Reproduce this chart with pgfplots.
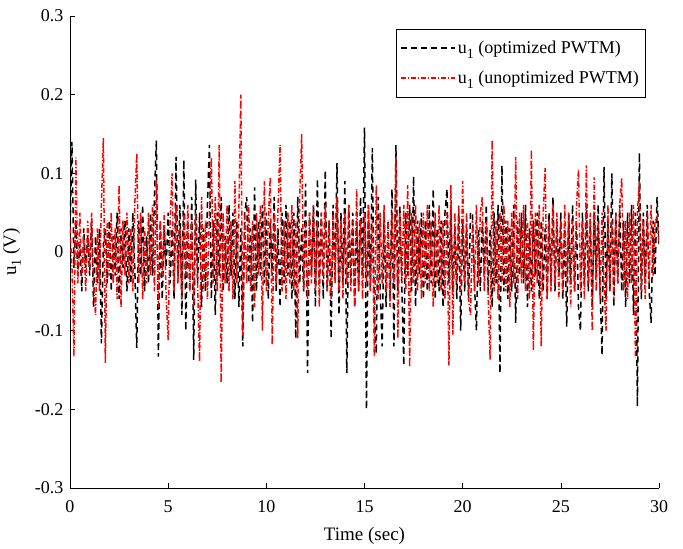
\documentclass[border=0pt]{standalone}
\usepackage{pgfplots}
\pgfplotsset{compat=1.18}
\usepackage{pgfplotstable}
\usepackage{fontspec}
\setmainfont{Liberation Serif}
\newcommand{\uone}{u\raisebox{-0.55ex}{\fontsize{14bp}{14bp}\selectfont 1}}
\pgfplotstableread{
t b r
0.0 0.02 0.03
0.1 0.14 -0.02
0.2 -0.02 -0.133
0.3 0.04 0.12
0.4 -0.03 -0.04
0.5 0.01 0.05
0.6 -0.05 -0.03
0.7 0.03 0.02
0.8 -0.02 -0.05
0.9 0.02 0.04
1.0 -0.03 -0.02
1.1 0.04 0.05
1.2 -0.07 -0.04
1.3 0.02 -0.08
1.4 -0.04 0.03
1.5 0.03 -0.05
1.6 -0.116 0.06
1.7 0.01 0.145
1.8 0.03 -0.141
1.9 -0.04 0.04
2.0 0.04 -0.03
2.1 -0.05 0.05
2.2 0.02 -0.04
2.3 -0.03 0.03
2.4 0.05 -0.06
2.5 -0.06 0.085
2.6 0.03 -0.07
2.7 -0.02 0.04
2.8 0.04 -0.03
2.9 -0.05 0.05
3.0 0.03 -0.04
3.1 -0.04 0.03
3.2 0.05 -0.05
3.3 -0.02 0.06
3.4 -0.122 0.125
3.5 0.04 -0.04
3.6 -0.03 0.05
3.7 0.06 -0.06
3.8 -0.05 0.03
3.9 0.02 -0.04
4.0 -0.04 0.05
4.1 0.05 -0.03
4.2 -0.03 0.06
4.3 0.07 -0.05
4.4 0.142 0.092
4.5 -0.133 -0.07
4.6 0.04 0.04
4.7 -0.06 -0.03
4.8 0.03 0.05
4.9 -0.02 -0.06
5.0 0.05 -0.112
5.1 -0.04 0.04
5.2 0.03 0.10
5.3 -0.06 -0.05
5.4 0.121 0.06
5.5 -0.03 -0.04
5.6 0.06 0.03
5.7 -0.08 -0.06
5.8 0.117 0.05
5.9 -0.10 -0.03
6.0 0.04 0.06
6.1 -0.05 -0.05
6.2 0.07 0.04
6.3 -0.137 -0.07
6.4 0.092 0.05
6.5 -0.04 -0.04
6.6 0.05 -0.139
6.7 -0.07 0.07
6.8 0.03 -0.05
6.9 -0.05 0.04
7.0 0.06 -0.06
7.1 0.136 0.05
7.2 -0.06 0.12
7.3 0.04 -0.04
7.4 -0.08 0.07
7.5 0.05 -0.05
7.6 -0.03 0.136
7.7 0.07 -0.166
7.8 -0.05 0.05
7.9 0.02 -0.04
8.0 -0.04 0.06
8.1 0.06 -0.05
8.2 -0.03 0.04
8.3 0.05 -0.06
8.4 -0.06 0.09
8.5 0.04 -0.04
8.6 -0.07 0.05
8.7 0.03 0.20
8.8 -0.12 -0.106
8.9 0.05 0.05
9.0 0.07 -0.04
9.1 -0.04 0.06
9.2 0.03 -0.05
9.3 -0.09 0.04
9.4 0.082 -0.07
9.5 -0.05 0.05
9.6 0.04 -0.03
9.7 -0.03 0.06
9.8 0.06 -0.10
9.9 -0.04 0.09
10.0 0.05 -0.05
10.1 -0.06 0.04
10.2 0.04 0.095
10.3 -0.03 -0.118
10.4 0.07 0.05
10.5 -0.05 -0.04
10.6 0.03 0.06
10.7 -0.07 0.136
10.8 0.05 -0.05
10.9 -0.04 0.04
11.0 0.06 -0.06
11.1 -0.03 0.05
11.2 0.04 -0.04
11.3 -0.06 0.06
11.4 0.05 -0.05
11.5 -0.11 0.04
11.6 0.07 -0.11
11.7 -0.04 0.07
11.8 0.03 0.15
11.9 -0.05 -0.05
12.0 0.087 0.04
12.1 -0.154 -0.06
12.2 0.05 0.05
12.3 -0.03 -0.04
12.4 0.06 0.06
12.5 -0.07 -0.05
12.6 0.093 0.04
12.7 -0.04 -0.07
12.8 0.05 0.05
12.9 -0.06 -0.03
13.0 0.104 0.06
13.1 -0.05 -0.05
13.2 0.04 0.04
13.3 -0.11 -0.06
13.4 0.06 0.05
13.5 -0.03 -0.04
13.6 0.113 0.07
13.7 -0.08 -0.05
13.8 0.05 0.04
13.9 -0.04 -0.06
14.0 0.09 0.05
14.1 -0.154 -0.04
14.2 0.06 0.06
14.3 -0.04 -0.05
14.4 0.05 0.04
14.5 -0.07 -0.07
14.6 0.04 0.08
14.7 -0.05 -0.05
14.8 0.07 0.04
14.9 -0.03 -0.06
15.0 0.158 0.05
15.1 -0.20 -0.04
15.2 0.06 0.06
15.3 -0.05 -0.05
15.4 0.132 0.04
15.5 -0.08 -0.133
15.6 -0.129 0.085
15.7 0.07 -0.06
15.8 -0.05 0.05
15.9 -0.12 -0.04
16.0 0.05 0.06
16.1 -0.07 -0.05
16.2 0.04 0.04
16.3 -0.06 -0.07
16.4 0.08 0.05
16.5 -0.12 -0.04
16.6 0.136 0.12
16.7 -0.05 -0.11
16.8 0.06 0.05
16.9 -0.04 -0.04
17.0 -0.144 0.06
17.1 0.05 -0.05
17.2 -0.03 0.085
17.3 0.06 -0.146
17.4 -0.05 0.05
17.5 0.096 -0.04
17.6 -0.07 0.06
17.7 0.04 -0.05
17.8 -0.03 0.04
17.9 0.05 -0.06
18.0 -0.06 0.05
18.1 0.04 -0.04
18.2 -0.05 0.06
18.3 0.06 -0.05
18.4 -0.04 0.04
18.5 0.08 -0.07
18.6 -0.06 0.05
18.7 0.03 -0.04
18.8 -0.05 0.06
18.9 0.04 -0.05
19.0 -0.07 0.04
19.1 0.05 -0.06
19.2 0.08 0.05
19.3 -0.04 -0.144
19.4 0.06 0.085
19.5 -0.05 -0.105
19.6 0.03 0.05
19.7 -0.06 -0.04
19.8 0.05 0.06
19.9 -0.10 -0.05
20.0 0.04 0.09
20.1 -0.05 -0.04
20.2 0.03 0.05
20.3 -0.06 -0.06
20.4 0.05 -0.08
20.5 0.05 0.04
20.6 -0.04 -0.05
20.7 -0.10 0.06
20.8 0.03 -0.04
20.9 -0.05 0.05
21.0 0.04 0.07
21.1 -0.03 -0.05
21.2 0.06 0.04
21.3 -0.05 -0.06
21.4 0.03 -0.137
21.5 -0.07 0.142
21.6 0.05 -0.05
21.7 -0.04 0.04
21.8 0.06 -0.06
21.9 -0.154 0.05
22.0 0.11 -0.04
22.1 -0.05 0.06
22.2 0.04 -0.05
22.3 -0.06 0.04
22.4 0.03 -0.07
22.5 -0.05 0.05
22.6 0.06 -0.04
22.7 -0.09 0.121
22.8 0.04 -0.06
22.9 -0.03 0.05
23.0 0.05 -0.04
23.1 -0.04 0.06
23.2 0.06 -0.05
23.3 -0.07 0.04
23.4 0.03 -0.06
23.5 -0.05 0.13
23.6 0.04 -0.125
23.7 -0.03 0.05
23.8 0.05 -0.04
23.9 -0.06 0.06
24.0 0.04 -0.12
24.1 -0.05 0.05
24.2 0.03 0.107
24.3 -0.06 -0.06
24.4 0.05 0.04
24.5 -0.04 -0.05
24.6 0.07 0.06
24.7 -0.05 -0.04
24.8 0.04 0.05
24.9 -0.03 -0.06
25.0 0.05 0.04
25.1 -0.06 -0.05
25.2 0.03 0.06
25.3 -0.095 -0.04
25.4 0.05 0.05
25.5 -0.04 -0.07
25.6 0.06 0.04
25.7 -0.05 -0.05
25.8 0.04 0.06
25.9 -0.07 0.105
26.0 -0.10 -0.05
26.1 0.05 0.04
26.2 -0.04 -0.06
26.3 0.06 0.11
26.4 -0.05 -0.04
26.5 0.04 0.05
26.6 -0.07 -0.10
26.7 0.05 0.095
26.8 -0.03 -0.05
26.9 0.06 0.04
27.0 -0.05 -0.06
27.1 -0.131 0.05
27.2 0.108 -0.04
27.3 -0.06 -0.10
27.4 0.04 0.06
27.5 -0.05 -0.05
27.6 0.10 0.04
27.7 -0.07 -0.06
27.8 0.05 0.05
27.9 -0.04 -0.04
28.0 0.06 0.06
28.1 -0.05 0.094
28.2 0.04 -0.05
28.3 -0.07 0.04
28.4 0.05 -0.06
28.5 -0.04 0.05
28.6 0.06 -0.04
28.7 -0.08 0.06
28.8 0.05 -0.135
28.9 -0.196 0.05
29.0 0.126 0.09
29.1 -0.06 -0.05
29.2 0.05 0.04
29.3 -0.04 -0.06
29.4 0.06 0.05
29.5 -0.05 -0.04
29.6 -0.09 0.06
29.7 0.04 -0.03
29.8 -0.03 0.04
29.9 0.07 0.045
30.0 0.01 0.01
}\datatable
\begin{document}
\begin{tikzpicture}
\begin{axis}[
  at={(0,0)}, anchor=south west,
  scale only axis, width=589bp, height=472bp,
  xmin=0, xmax=30, ymin=-0.3, ymax=0.3,
  axis x line*=bottom, axis y line*=left,
  axis line style={-, line width=0.6bp},
  tick align=inside, major tick length=5bp,
  tick style={line width=0.6bp, black},
  xtick={0,5,10,15,20,25,30},
  ytick={-0.3,-0.2,-0.1,0,0.1,0.2,0.3},
  yticklabels={-0.3,-0.2,-0.1,0,0.1,0.2,0.3},
  /pgf/number format/assume math mode=true,
  tick label style={font=\fontsize{18bp}{20bp}\selectfont},
  yticklabel style={xshift=-3bp},
  xticklabel style={yshift=-9bp},
  xlabel={Time (sec)},
  ylabel={\uone\ (V)},
  every axis x label/.style={at={(axis description cs:0.5,-0.101)}, anchor=center, font=\fontsize{19bp}{21bp}\selectfont},
  every axis y label/.style={at={(axis description cs:-0.0985,0.5)}, anchor=center, rotate=90, font=\fontsize{19bp}{21bp}\selectfont},
  legend style={at={(1,1)}, anchor=north east, xshift=-14bp, yshift=-13bp,
    font=\fontsize{18bp}{20bp}\selectfont,
    inner xsep=4bp, inner ysep=10bp, row sep=12bp, cells={anchor=west}},
  legend image code/.code={\draw[#1] (0bp,0bp) -- (54bp,0bp);},
]
\addplot[draw=black, line width=1.5bp, dash pattern=on 6bp off 4bp] table[x=t, y=b] {\datatable};
\addlegendentry{\uone\ (optimized PWTM)}
\addplot[draw=red, line width=1.5bp, dash pattern=on 5bp off 2bp on 1bp off 2bp] table[x=t, y=r] {\datatable};
\addlegendentry{\uone\ (unoptimized PWTM)}
\end{axis}
\pgfresetboundingbox
\path[use as bounding box] (-70bp,-61bp) rectangle (613bp,488bp);
\end{tikzpicture}
\end{document}
